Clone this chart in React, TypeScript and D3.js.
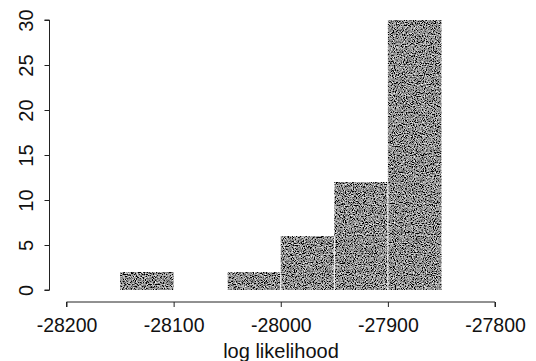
import React, { useEffect, useRef } from "react";
import * as d3 from "d3";

// histogram bins (lower edge, upper edge) and counts
const BIN_STARTS = [-28150, -28050, -28000, -27950, -27900];
const BIN_ENDS = [-28100, -28000, -27950, -27900, -27850];
const COUNTS = [2, 2, 6, 12, 30];
const X_TICKS = [-28200, -28100, -28000, -27900, -27800];
const Y_TICKS = [0, 5, 10, 15, 20, 25, 30];

const App = () => {
    const ref = useRef<HTMLDivElement>(null);

    useEffect(() => {
        const width = 536;
        const height = 361;
        const font = "'Liberation Sans', Arial, Helvetica, sans-serif";

        const svg = d3
            .select(ref.current)
            .html("")
            .append("svg")
            .attr("width", width)
            .attr("height", height)
            .style("position", "absolute")
            .style("left", "0px")
            .style("top", "0px")
            .style("background", "white");

        // grainy print texture for the bars
        const defs = svg.append("defs");
        const filter = defs
            .append("filter")
            .attr("id", "grain")
            .attr("x", 0)
            .attr("y", 0)
            .attr("width", 1)
            .attr("height", 1);
        filter
            .append("feTurbulence")
            .attr("type", "fractalNoise")
            .attr("baseFrequency", 0.9)
            .attr("numOctaves", 2)
            .attr("seed", 7)
            .attr("result", "noise");
        filter
            .append("feColorMatrix")
            .attr("in", "noise")
            .attr("type", "matrix")
            .attr(
                "values",
                "2.0 0 0 0 -0.72  2.0 0 0 0 -0.72  2.0 0 0 0 -0.72  0 0 0 0 1"
            )
            .attr("result", "gray");
        filter
            .append("feComposite")
            .attr("in", "gray")
            .attr("in2", "SourceGraphic")
            .attr("operator", "in");

        const x = d3.scaleLinear().domain([-28200, -27800]).range([66.5, 495]);
        const y = d3.scaleLinear().domain([0, 30]).range([290, 20]);

        const bins = COUNTS.map((c, i) => ({ x0: BIN_STARTS[i], x1: BIN_ENDS[i], count: c }));

        svg
            .append("g")
            .attr("filter", "url(#grain)")
            .selectAll("rect")
            .data(bins)
            .join("rect")
            .attr("x", (d) => x(d.x0))
            .attr("y", (d) => y(d.count))
            .attr("width", (d) => x(d.x1) - x(d.x0))
            .attr("height", (d) => y(0) - y(d.count))
            .attr("fill", "#333");

        // thin white separators between touching bars
        svg
            .append("g")
            .selectAll("line")
            .data(bins.slice(1))
            .join("line")
            .attr("x1", (d) => x(d.x0))
            .attr("x2", (d) => x(d.x0))
            .attr("y1", (d, i) => y(Math.min(d.count, bins[i].count)))
            .attr("y2", y(0))
            .attr("stroke", "white")
            .attr("stroke-width", 1);

        const fmt = (d) => String(d);

        // x axis
        const xAxis = svg
            .append("g")
            .attr("transform", "translate(0,302)")
            .call(d3.axisBottom(x).tickValues(X_TICKS).tickSize(5).tickFormat(fmt));
        xAxis.select(".domain").attr("d", `M${x(-28200)},5V0H${x(-27800)}V5`).attr("stroke", "#222");
        xAxis.selectAll(".tick line").attr("stroke", "#222");
        xAxis
            .selectAll(".tick text")
            .attr("font-family", font)
            .attr("font-size", 19.5)
            .attr("fill", "#111")
            .attr("dy", null)
            .attr("y", 30);

        // y axis with rotated labels
        const yAxis = svg
            .append("g")
            .attr("transform", "translate(49.5,0)")
            .call(d3.axisLeft(y).tickValues(Y_TICKS).tickSize(5).tickFormat(fmt));
        yAxis.select(".domain").attr("d", `M-5,${y(0)}H0V${y(30)}H-5`).attr("stroke", "#222");
        yAxis.selectAll(".tick line").attr("stroke", "#222");
        yAxis
            .selectAll(".tick text")
            .attr("font-family", font)
            .attr("font-size", 20)
            .attr("fill", "#111")
            .attr("x", null)
            .attr("dy", null)
            .attr("text-anchor", "middle")
            .attr("transform", "translate(-16.5,0) rotate(-90)");

        svg
            .append("text")
            .attr("x", 281)
            .attr("y", 358)
            .attr("text-anchor", "middle")
            .attr("font-family", font)
            .attr("font-size", 20)
            .attr("fill", "#111")
            .text("log likelihood");
    }, []);

    return <div ref={ref} />;
};

export default App;
